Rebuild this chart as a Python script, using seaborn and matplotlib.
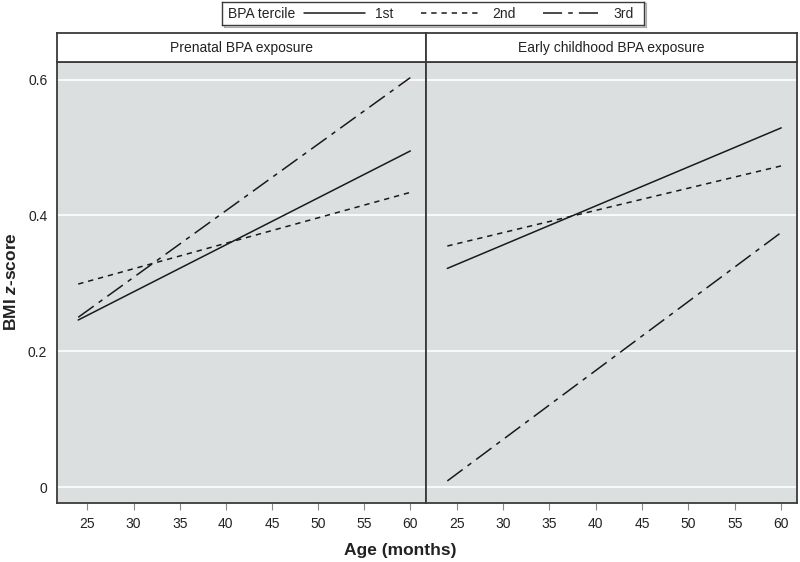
import matplotlib
matplotlib.use("Agg")
import matplotlib.pyplot as plt
import pandas as pd
import seaborn as sns
from matplotlib.lines import Line2D

sns.set_style("ticks")
plt.rcParams['font.family'] = ['Liberation Sans', 'DejaVu Sans']
plt.rcParams['mathtext.fontset'] = 'custom'
plt.rcParams['mathtext.it'] = 'Liberation Sans:italic:bold'
plt.rcParams['mathtext.rm'] = 'Liberation Sans:bold'

# data (fitted lines, endpoints at 24 and 60 months)
age = [24, 60]
terciles = ['1st', '2nd', '3rd']
panels = ['Prenatal BPA exposure', 'Early childhood BPA exposure']
prenatal_1st = [0.246, 0.495]
prenatal_2nd = [0.299, 0.434]
prenatal_3rd = [0.250, 0.603]
early_1st = [0.322, 0.529]
early_2nd = [0.355, 0.473]
early_3rd = [0.009, 0.375]
yticks = [0, 0.2, 0.4, 0.6]
ytick_labels = ['0', '0.2', '0.4', '0.6']
xticks = [25, 30, 35, 40, 45, 50, 55, 60]

rows = []
for panel, series in zip(panels, [[prenatal_1st, prenatal_2nd, prenatal_3rd],
                                  [early_1st, early_2nd, early_3rd]]):
    for terc, vals in zip(terciles, series):
        for a, v in zip(age, vals):
            rows.append(dict(panel=panel, tercile=terc, age=a, bmi=v))
df = pd.DataFrame(rows)

dashes = {'1st': '', '2nd': (3.5, 3.2), '3rd': (12.5, 4, 3, 4)}
bg = '#dcdfe0'
edge = '#3a3a3a'
txt = '#222222'
fs = 10

fig = plt.figure(figsize=(8, 5.62), dpi=100)
W, H = 800, 562
x_edges = [(57, 426), (426, 797)]
for i, (x0, x1) in enumerate(x_edges):
    ax = fig.add_axes([x0 / W, 1 - 503 / H, (x1 - x0) / W, (503 - 62) / H])
    ax.set_facecolor(bg)
    sub = df[df.panel == panels[i]]
    sns.lineplot(data=sub, x='age', y='bmi', style='tercile', dashes=dashes,
                 color='#1a1a1a', linewidth=1.1, legend=False, ax=ax)
    ax.set_xlim(21.7, 61.7)
    ax.set_ylim(-0.0235, 0.626)
    ax.set_yticks(yticks)
    ax.grid(axis='y', color='white', linewidth=1.2)
    ax.set_axisbelow(True)
    ax.set_xticks(xticks)
    ax.tick_params(axis='x', length=5, color='#888888', labelsize=fs,
                   labelcolor=txt, pad=5)
    if i == 0:
        ax.set_yticklabels(ytick_labels)
        ax.tick_params(axis='y', length=0, labelsize=fs, labelcolor=txt, pad=7)
    else:
        ax.tick_params(axis='y', length=0, labelleft=False)
    ax.set_xlabel('')
    ax.set_ylabel('')
    for s in ax.spines.values():
        s.set_color(edge)
        s.set_linewidth(1.3)
    # strip header
    sax = fig.add_axes([x0 / W, 1 - 62 / H, (x1 - x0) / W, (62 - 33) / H])
    sax.set_xticks([])
    sax.set_yticks([])
    for s in sax.spines.values():
        s.set_color(edge)
        s.set_linewidth(1.3)
    sax.text(0.5, 0.47, panels[i], ha='center', va='center', fontsize=fs,
             color=txt, transform=sax.transAxes)

fig.text(400 / W, 1 - 551 / H, 'Age (months)', ha='center', va='center',
         fontsize=12.5, fontweight='bold', color=txt)
fig.text(11 / W, 1 - 282 / H, r'BMI $\mathit{z}$-score', ha='center', va='center',
         rotation=90, fontsize=12.5, fontweight='bold', color=txt)

# legend box on top
shadow = fig.add_axes([224 / W, 1 - 27 / H, (644 - 222) / W, 24 / H])
shadow.set_xticks([]); shadow.set_yticks([])
shadow.set_facecolor('#d6d6d6')
for s in shadow.spines.values():
    s.set_color('#aaaaaa')
lax = fig.add_axes([222 / W, 1 - 25 / H, (644 - 222) / W, 23 / H])
lax.set_xticks([]); lax.set_yticks([])
for s in lax.spines.values():
    s.set_color(edge)
    s.set_linewidth(1.0)
lax.text(6 / 422, 0.48, 'BPA tercile', ha='left', va='center', fontsize=fs,
         color=txt, transform=lax.transAxes)
handles = []
for t in terciles:
    h = Line2D([], [], color='#1a1a1a', linewidth=1.1)
    if dashes[t]:
        h.set_dashes(dashes[t])
    handles.append(h)
lax.legend(handles, terciles, ncol=3, frameon=False, loc='center left',
           bbox_to_anchor=((304 - 222) / 422, 0.5), handlelength=4.4,
           handletextpad=0.7, columnspacing=2.0, fontsize=fs,
           borderaxespad=0, borderpad=0)

fig.savefig('out.png', dpi=100)
